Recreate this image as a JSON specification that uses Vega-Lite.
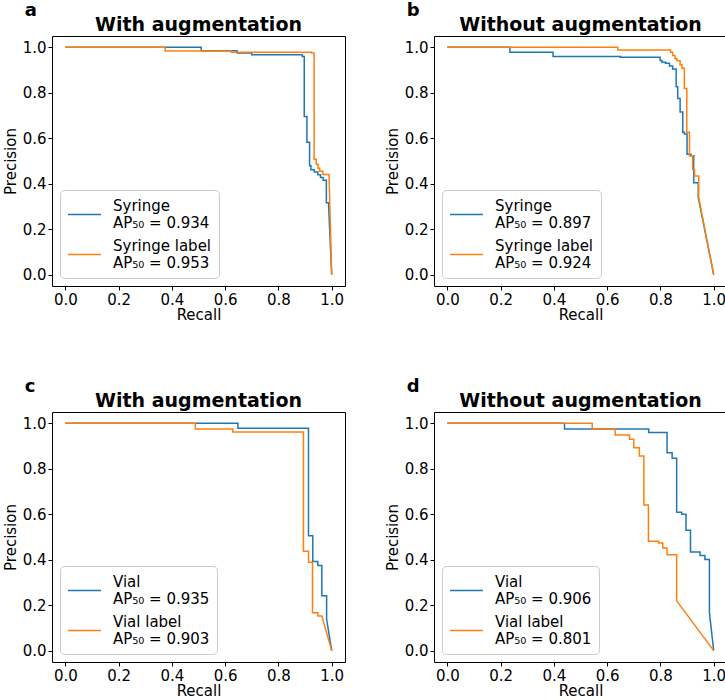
{
  "$schema": "https://vega.github.io/schema/vega-lite/v6.json",
  "background": "white",
  "padding": {"left": 2, "top": 1, "right": 0, "bottom": 0},
  "datasets": {
    "a": [
      {"s":"Syringe","i":0,"r":0,"p":1},{"s":"Syringe","i":1,"r":0.51,"p":1},{"s":"Syringe","i":2,"r":0.51,"p":0.985},{"s":"Syringe","i":3,"r":0.645,"p":0.985},{"s":"Syringe","i":4,"r":0.645,"p":0.975},{"s":"Syringe","i":5,"r":0.70,"p":0.975},{"s":"Syringe","i":6,"r":0.70,"p":0.968},{"s":"Syringe","i":7,"r":0.89,"p":0.968},{"s":"Syringe","i":8,"r":0.89,"p":0.96},{"s":"Syringe","i":9,"r":0.897,"p":0.96},{"s":"Syringe","i":10,"r":0.897,"p":0.696},{"s":"Syringe","i":11,"r":0.907,"p":0.696},{"s":"Syringe","i":12,"r":0.907,"p":0.582},{"s":"Syringe","i":13,"r":0.917,"p":0.582},{"s":"Syringe","i":14,"r":0.917,"p":0.479},{"s":"Syringe","i":15,"r":0.922,"p":0.479},{"s":"Syringe","i":16,"r":0.922,"p":0.462},{"s":"Syringe","i":17,"r":0.935,"p":0.462},{"s":"Syringe","i":18,"r":0.935,"p":0.452},{"s":"Syringe","i":19,"r":0.948,"p":0.452},{"s":"Syringe","i":20,"r":0.948,"p":0.44},{"s":"Syringe","i":21,"r":0.958,"p":0.44},{"s":"Syringe","i":22,"r":0.958,"p":0.427},{"s":"Syringe","i":23,"r":0.968,"p":0.427},{"s":"Syringe","i":24,"r":0.968,"p":0.415},{"s":"Syringe","i":25,"r":0.98,"p":0.415},{"s":"Syringe","i":26,"r":0.98,"p":0.316},{"s":"Syringe","i":27,"r":0.988,"p":0.316},{"s":"Syringe","i":28,"r":1.0,"p":0.0},
      {"s":"Syringe label","i":0,"r":0,"p":1},{"s":"Syringe label","i":1,"r":0.375,"p":1},{"s":"Syringe label","i":2,"r":0.375,"p":0.984},{"s":"Syringe label","i":3,"r":0.623,"p":0.984},{"s":"Syringe label","i":4,"r":0.623,"p":0.979},{"s":"Syringe label","i":5,"r":0.924,"p":0.979},{"s":"Syringe label","i":6,"r":0.924,"p":0.975},{"s":"Syringe label","i":7,"r":0.934,"p":0.975},{"s":"Syringe label","i":8,"r":0.934,"p":0.508},{"s":"Syringe label","i":9,"r":0.942,"p":0.508},{"s":"Syringe label","i":10,"r":0.942,"p":0.486},{"s":"Syringe label","i":11,"r":0.949,"p":0.486},{"s":"Syringe label","i":12,"r":0.949,"p":0.468},{"s":"Syringe label","i":13,"r":0.955,"p":0.468},{"s":"Syringe label","i":14,"r":0.955,"p":0.455},{"s":"Syringe label","i":15,"r":0.967,"p":0.455},{"s":"Syringe label","i":16,"r":0.967,"p":0.441},{"s":"Syringe label","i":17,"r":0.99,"p":0.441},{"s":"Syringe label","i":18,"r":1.0,"p":0.0}
    ],
    "b": [
      {"s":"Syringe","i":0,"r":0,"p":1},{"s":"Syringe","i":1,"r":0.235,"p":1},{"s":"Syringe","i":2,"r":0.235,"p":0.978},{"s":"Syringe","i":3,"r":0.397,"p":0.978},{"s":"Syringe","i":4,"r":0.397,"p":0.96},{"s":"Syringe","i":5,"r":0.65,"p":0.96},{"s":"Syringe","i":6,"r":0.65,"p":0.957},{"s":"Syringe","i":7,"r":0.799,"p":0.957},{"s":"Syringe","i":8,"r":0.799,"p":0.942},{"s":"Syringe","i":9,"r":0.806,"p":0.942},{"s":"Syringe","i":10,"r":0.806,"p":0.935},{"s":"Syringe","i":11,"r":0.819,"p":0.935},{"s":"Syringe","i":12,"r":0.819,"p":0.93},{"s":"Syringe","i":13,"r":0.834,"p":0.93},{"s":"Syringe","i":14,"r":0.834,"p":0.918},{"s":"Syringe","i":15,"r":0.846,"p":0.918},{"s":"Syringe","i":16,"r":0.846,"p":0.905},{"s":"Syringe","i":17,"r":0.859,"p":0.905},{"s":"Syringe","i":18,"r":0.859,"p":0.827},{"s":"Syringe","i":19,"r":0.865,"p":0.827},{"s":"Syringe","i":20,"r":0.865,"p":0.775},{"s":"Syringe","i":21,"r":0.874,"p":0.775},{"s":"Syringe","i":22,"r":0.874,"p":0.716},{"s":"Syringe","i":23,"r":0.884,"p":0.716},{"s":"Syringe","i":24,"r":0.884,"p":0.627},{"s":"Syringe","i":25,"r":0.89,"p":0.627},{"s":"Syringe","i":26,"r":0.89,"p":0.619},{"s":"Syringe","i":27,"r":0.90,"p":0.619},{"s":"Syringe","i":28,"r":0.90,"p":0.53},{"s":"Syringe","i":29,"r":0.915,"p":0.53},{"s":"Syringe","i":30,"r":0.915,"p":0.523},{"s":"Syringe","i":31,"r":0.925,"p":0.523},{"s":"Syringe","i":32,"r":0.925,"p":0.404},{"s":"Syringe","i":33,"r":0.942,"p":0.404},{"s":"Syringe","i":34,"r":0.942,"p":0.34},{"s":"Syringe","i":35,"r":1.0,"p":0.0},
      {"s":"Syringe label","i":0,"r":0,"p":1},{"s":"Syringe label","i":1,"r":0.64,"p":1},{"s":"Syringe label","i":2,"r":0.64,"p":0.988},{"s":"Syringe label","i":3,"r":0.838,"p":0.988},{"s":"Syringe label","i":4,"r":0.838,"p":0.978},{"s":"Syringe label","i":5,"r":0.846,"p":0.978},{"s":"Syringe label","i":6,"r":0.846,"p":0.964},{"s":"Syringe label","i":7,"r":0.855,"p":0.964},{"s":"Syringe label","i":8,"r":0.855,"p":0.95},{"s":"Syringe label","i":9,"r":0.862,"p":0.95},{"s":"Syringe label","i":10,"r":0.862,"p":0.941},{"s":"Syringe label","i":11,"r":0.874,"p":0.941},{"s":"Syringe label","i":12,"r":0.874,"p":0.923},{"s":"Syringe label","i":13,"r":0.881,"p":0.923},{"s":"Syringe label","i":14,"r":0.881,"p":0.908},{"s":"Syringe label","i":15,"r":0.89,"p":0.908},{"s":"Syringe label","i":16,"r":0.89,"p":0.819},{"s":"Syringe label","i":17,"r":0.899,"p":0.819},{"s":"Syringe label","i":18,"r":0.899,"p":0.627},{"s":"Syringe label","i":19,"r":0.909,"p":0.627},{"s":"Syringe label","i":20,"r":0.909,"p":0.523},{"s":"Syringe label","i":21,"r":0.921,"p":0.523},{"s":"Syringe label","i":22,"r":0.921,"p":0.464},{"s":"Syringe label","i":23,"r":0.928,"p":0.464},{"s":"Syringe label","i":24,"r":0.928,"p":0.434},{"s":"Syringe label","i":25,"r":0.944,"p":0.434},{"s":"Syringe label","i":26,"r":0.944,"p":0.338},{"s":"Syringe label","i":27,"r":1.0,"p":0.0}
    ],
    "c": [
      {"s":"Vial","i":0,"r":0,"p":1},{"s":"Vial","i":1,"r":0.648,"p":1},{"s":"Vial","i":2,"r":0.648,"p":0.979},{"s":"Vial","i":3,"r":0.913,"p":0.979},{"s":"Vial","i":4,"r":0.913,"p":0.505},{"s":"Vial","i":5,"r":0.929,"p":0.505},{"s":"Vial","i":6,"r":0.929,"p":0.392},{"s":"Vial","i":7,"r":0.948,"p":0.392},{"s":"Vial","i":8,"r":0.948,"p":0.375},{"s":"Vial","i":9,"r":0.963,"p":0.375},{"s":"Vial","i":10,"r":0.963,"p":0.241},{"s":"Vial","i":11,"r":0.981,"p":0.241},{"s":"Vial","i":12,"r":0.981,"p":0.138},{"s":"Vial","i":13,"r":1.0,"p":0.0},
      {"s":"Vial label","i":0,"r":0,"p":1},{"s":"Vial label","i":1,"r":0.488,"p":1},{"s":"Vial label","i":2,"r":0.488,"p":0.975},{"s":"Vial label","i":3,"r":0.629,"p":0.975},{"s":"Vial label","i":4,"r":0.629,"p":0.962},{"s":"Vial label","i":5,"r":0.894,"p":0.962},{"s":"Vial label","i":6,"r":0.894,"p":0.437},{"s":"Vial label","i":7,"r":0.913,"p":0.437},{"s":"Vial label","i":8,"r":0.913,"p":0.389},{"s":"Vial label","i":9,"r":0.928,"p":0.389},{"s":"Vial label","i":10,"r":0.928,"p":0.167},{"s":"Vial label","i":11,"r":0.948,"p":0.167},{"s":"Vial label","i":12,"r":0.948,"p":0.152},{"s":"Vial label","i":13,"r":0.963,"p":0.152},{"s":"Vial label","i":14,"r":1.0,"p":0.0}
    ],
    "d": [
      {"s":"Vial","i":0,"r":0,"p":1},{"s":"Vial","i":1,"r":0.44,"p":1},{"s":"Vial","i":2,"r":0.44,"p":0.975},{"s":"Vial","i":3,"r":0.756,"p":0.975},{"s":"Vial","i":4,"r":0.756,"p":0.96},{"s":"Vial","i":5,"r":0.825,"p":0.96},{"s":"Vial","i":6,"r":0.825,"p":0.871},{"s":"Vial","i":7,"r":0.844,"p":0.871},{"s":"Vial","i":8,"r":0.844,"p":0.846},{"s":"Vial","i":9,"r":0.861,"p":0.846},{"s":"Vial","i":10,"r":0.861,"p":0.609},{"s":"Vial","i":11,"r":0.88,"p":0.609},{"s":"Vial","i":12,"r":0.88,"p":0.6},{"s":"Vial","i":13,"r":0.896,"p":0.6},{"s":"Vial","i":14,"r":0.896,"p":0.53},{"s":"Vial","i":15,"r":0.913,"p":0.53},{"s":"Vial","i":16,"r":0.913,"p":0.434},{"s":"Vial","i":17,"r":0.949,"p":0.434},{"s":"Vial","i":18,"r":0.949,"p":0.419},{"s":"Vial","i":19,"r":0.967,"p":0.419},{"s":"Vial","i":20,"r":0.967,"p":0.401},{"s":"Vial","i":21,"r":0.984,"p":0.401},{"s":"Vial","i":22,"r":0.984,"p":0.167},{"s":"Vial","i":23,"r":1.0,"p":0.0},
      {"s":"Vial label","i":0,"r":0,"p":1},{"s":"Vial label","i":1,"r":0.544,"p":1},{"s":"Vial label","i":2,"r":0.544,"p":0.975},{"s":"Vial label","i":3,"r":0.63,"p":0.975},{"s":"Vial label","i":4,"r":0.63,"p":0.949},{"s":"Vial label","i":5,"r":0.684,"p":0.949},{"s":"Vial label","i":6,"r":0.684,"p":0.93},{"s":"Vial label","i":7,"r":0.70,"p":0.93},{"s":"Vial label","i":8,"r":0.70,"p":0.893},{"s":"Vial label","i":9,"r":0.721,"p":0.893},{"s":"Vial label","i":10,"r":0.721,"p":0.856},{"s":"Vial label","i":11,"r":0.738,"p":0.856},{"s":"Vial label","i":12,"r":0.738,"p":0.641},{"s":"Vial label","i":13,"r":0.755,"p":0.641},{"s":"Vial label","i":14,"r":0.755,"p":0.481},{"s":"Vial label","i":15,"r":0.793,"p":0.481},{"s":"Vial label","i":16,"r":0.793,"p":0.474},{"s":"Vial label","i":17,"r":0.809,"p":0.474},{"s":"Vial label","i":18,"r":0.809,"p":0.452},{"s":"Vial label","i":19,"r":0.825,"p":0.452},{"s":"Vial label","i":20,"r":0.825,"p":0.422},{"s":"Vial label","i":21,"r":0.861,"p":0.422},{"s":"Vial label","i":22,"r":0.861,"p":0.219},{"s":"Vial label","i":23,"r":1.0,"p":0.0}
    ]
  },
  "vconcat": [
    {
      "hconcat": [
        {
          "title": {"text": "a", "anchor": "start", "frame": "bounds", "fontSize": 18, "fontWeight": "bold", "dx": 22, "offset": -4},
          "resolve": {"scale": {"color": "independent"}, "legend": {"color": "independent"}},
          "vconcat": [{
            "width": 293, "height": 250,
            "title": {"text": "With augmentation"},
            "data": {"name": "a"},
            "mark": {"type": "line", "strokeWidth": 1.5},
            "encoding": {
              "x": {"field": "r", "type": "quantitative", "scale": {"domain": [-0.05, 1.05], "nice": false, "zero": false}, "axis": {"title": "Recall", "values": [0, 0.2, 0.4, 0.6, 0.8, 1.0], "format": ".1f"}},
              "y": {"field": "p", "type": "quantitative", "scale": {"domain": [-0.05, 1.05], "nice": false, "zero": false}, "axis": {"title": "Precision", "values": [0, 0.2, 0.4, 0.6, 0.8, 1.0], "format": ".1f"}},
              "color": {"field": "s", "type": "nominal", "scale": {"domain": ["Syringe", "Syringe label"], "range": ["#1f77b4", "#ff7f0e"]}, "legend": {"title": null, "labelExpr": "[datum.label, datum.label == 'Syringe' ? 'AP₅₀ = 0.934' : 'AP₅₀ = 0.953']"}},
              "order": {"field": "i", "type": "quantitative"}
            }
          }]
        },
        {
          "title": {"text": "b", "anchor": "start", "frame": "bounds", "fontSize": 18, "fontWeight": "bold", "dx": 22, "offset": -4},
          "resolve": {"scale": {"color": "independent"}, "legend": {"color": "independent"}},
          "vconcat": [{
            "width": 293, "height": 250,
            "title": {"text": "Without augmentation"},
            "data": {"name": "b"},
            "mark": {"type": "line", "strokeWidth": 1.5},
            "encoding": {
              "x": {"field": "r", "type": "quantitative", "scale": {"domain": [-0.05, 1.05], "nice": false, "zero": false}, "axis": {"title": "Recall", "values": [0, 0.2, 0.4, 0.6, 0.8, 1.0], "format": ".1f"}},
              "y": {"field": "p", "type": "quantitative", "scale": {"domain": [-0.05, 1.05], "nice": false, "zero": false}, "axis": {"title": "Precision", "values": [0, 0.2, 0.4, 0.6, 0.8, 1.0], "format": ".1f"}},
              "color": {"field": "s", "type": "nominal", "scale": {"domain": ["Syringe", "Syringe label"], "range": ["#1f77b4", "#ff7f0e"]}, "legend": {"title": null, "labelExpr": "[datum.label, datum.label == 'Syringe' ? 'AP₅₀ = 0.897' : 'AP₅₀ = 0.924']"}},
              "order": {"field": "i", "type": "quantitative"}
            }
          }]
        }
      ],
      "spacing": 38,
      "resolve": {"scale": {"color": "independent"}, "legend": {"color": "independent"}}
    },
    {
      "hconcat": [
        {
          "title": {"text": "c", "anchor": "start", "frame": "bounds", "fontSize": 18, "fontWeight": "bold", "dx": 22, "offset": -4},
          "resolve": {"scale": {"color": "independent"}, "legend": {"color": "independent"}},
          "vconcat": [{
            "width": 293, "height": 250,
            "title": {"text": "With augmentation"},
            "data": {"name": "c"},
            "mark": {"type": "line", "strokeWidth": 1.5},
            "encoding": {
              "x": {"field": "r", "type": "quantitative", "scale": {"domain": [-0.05, 1.05], "nice": false, "zero": false}, "axis": {"title": "Recall", "values": [0, 0.2, 0.4, 0.6, 0.8, 1.0], "format": ".1f"}},
              "y": {"field": "p", "type": "quantitative", "scale": {"domain": [-0.05, 1.05], "nice": false, "zero": false}, "axis": {"title": "Precision", "values": [0, 0.2, 0.4, 0.6, 0.8, 1.0], "format": ".1f"}},
              "color": {"field": "s", "type": "nominal", "scale": {"domain": ["Vial", "Vial label"], "range": ["#1f77b4", "#ff7f0e"]}, "legend": {"title": null, "labelExpr": "[datum.label, datum.label == 'Vial' ? 'AP₅₀ = 0.935' : 'AP₅₀ = 0.903']"}},
              "order": {"field": "i", "type": "quantitative"}
            }
          }]
        },
        {
          "title": {"text": "d", "anchor": "start", "frame": "bounds", "fontSize": 18, "fontWeight": "bold", "dx": 22, "offset": -4},
          "resolve": {"scale": {"color": "independent"}, "legend": {"color": "independent"}},
          "vconcat": [{
            "width": 293, "height": 250,
            "title": {"text": "Without augmentation"},
            "data": {"name": "d"},
            "mark": {"type": "line", "strokeWidth": 1.5},
            "encoding": {
              "x": {"field": "r", "type": "quantitative", "scale": {"domain": [-0.05, 1.05], "nice": false, "zero": false}, "axis": {"title": "Recall", "values": [0, 0.2, 0.4, 0.6, 0.8, 1.0], "format": ".1f"}},
              "y": {"field": "p", "type": "quantitative", "scale": {"domain": [-0.05, 1.05], "nice": false, "zero": false}, "axis": {"title": "Precision", "values": [0, 0.2, 0.4, 0.6, 0.8, 1.0], "format": ".1f"}},
              "color": {"field": "s", "type": "nominal", "scale": {"domain": ["Vial", "Vial label"], "range": ["#1f77b4", "#ff7f0e"]}, "legend": {"title": null, "labelExpr": "[datum.label, datum.label == 'Vial' ? 'AP₅₀ = 0.906' : 'AP₅₀ = 0.801']"}},
              "order": {"field": "i", "type": "quantitative"}
            }
          }]
        }
      ],
      "spacing": 38,
      "resolve": {"scale": {"color": "independent"}, "legend": {"color": "independent"}}
    }
  ],
  "spacing": 54,
  "resolve": {"scale": {"color": "independent"}, "legend": {"color": "independent"}},
  "config": {
    "font": "DejaVu Sans",
    "view": {"stroke": "black", "strokeWidth": 1},
    "axis": {"grid": false, "domain": false, "tickColor": "black", "tickSize": 4, "labelFontSize": 15, "labelColor": "black", "titleFontSize": 15, "titleFontWeight": "normal", "titleColor": "black", "labelPadding": 2},
    "axisX": {"titlePadding": 0},
    "axisY": {"titlePadding": 4},
    "title": {"fontSize": 19, "fontWeight": "bold", "color": "black", "offset": 1},
    "legend": {"orient": "bottom-left", "offset": 8, "strokeColor": "#cccccc", "cornerRadius": 4, "fillColor": "rgba(255,255,255,0.8)", "padding": 7, "symbolType": "stroke", "symbolSize": 1089, "symbolStrokeWidth": 1.5, "labelFontSize": 15, "labelColor": "black", "labelBaseline": "line-bottom", "rowPadding": 6, "labelOffset": 11}
  }
}
